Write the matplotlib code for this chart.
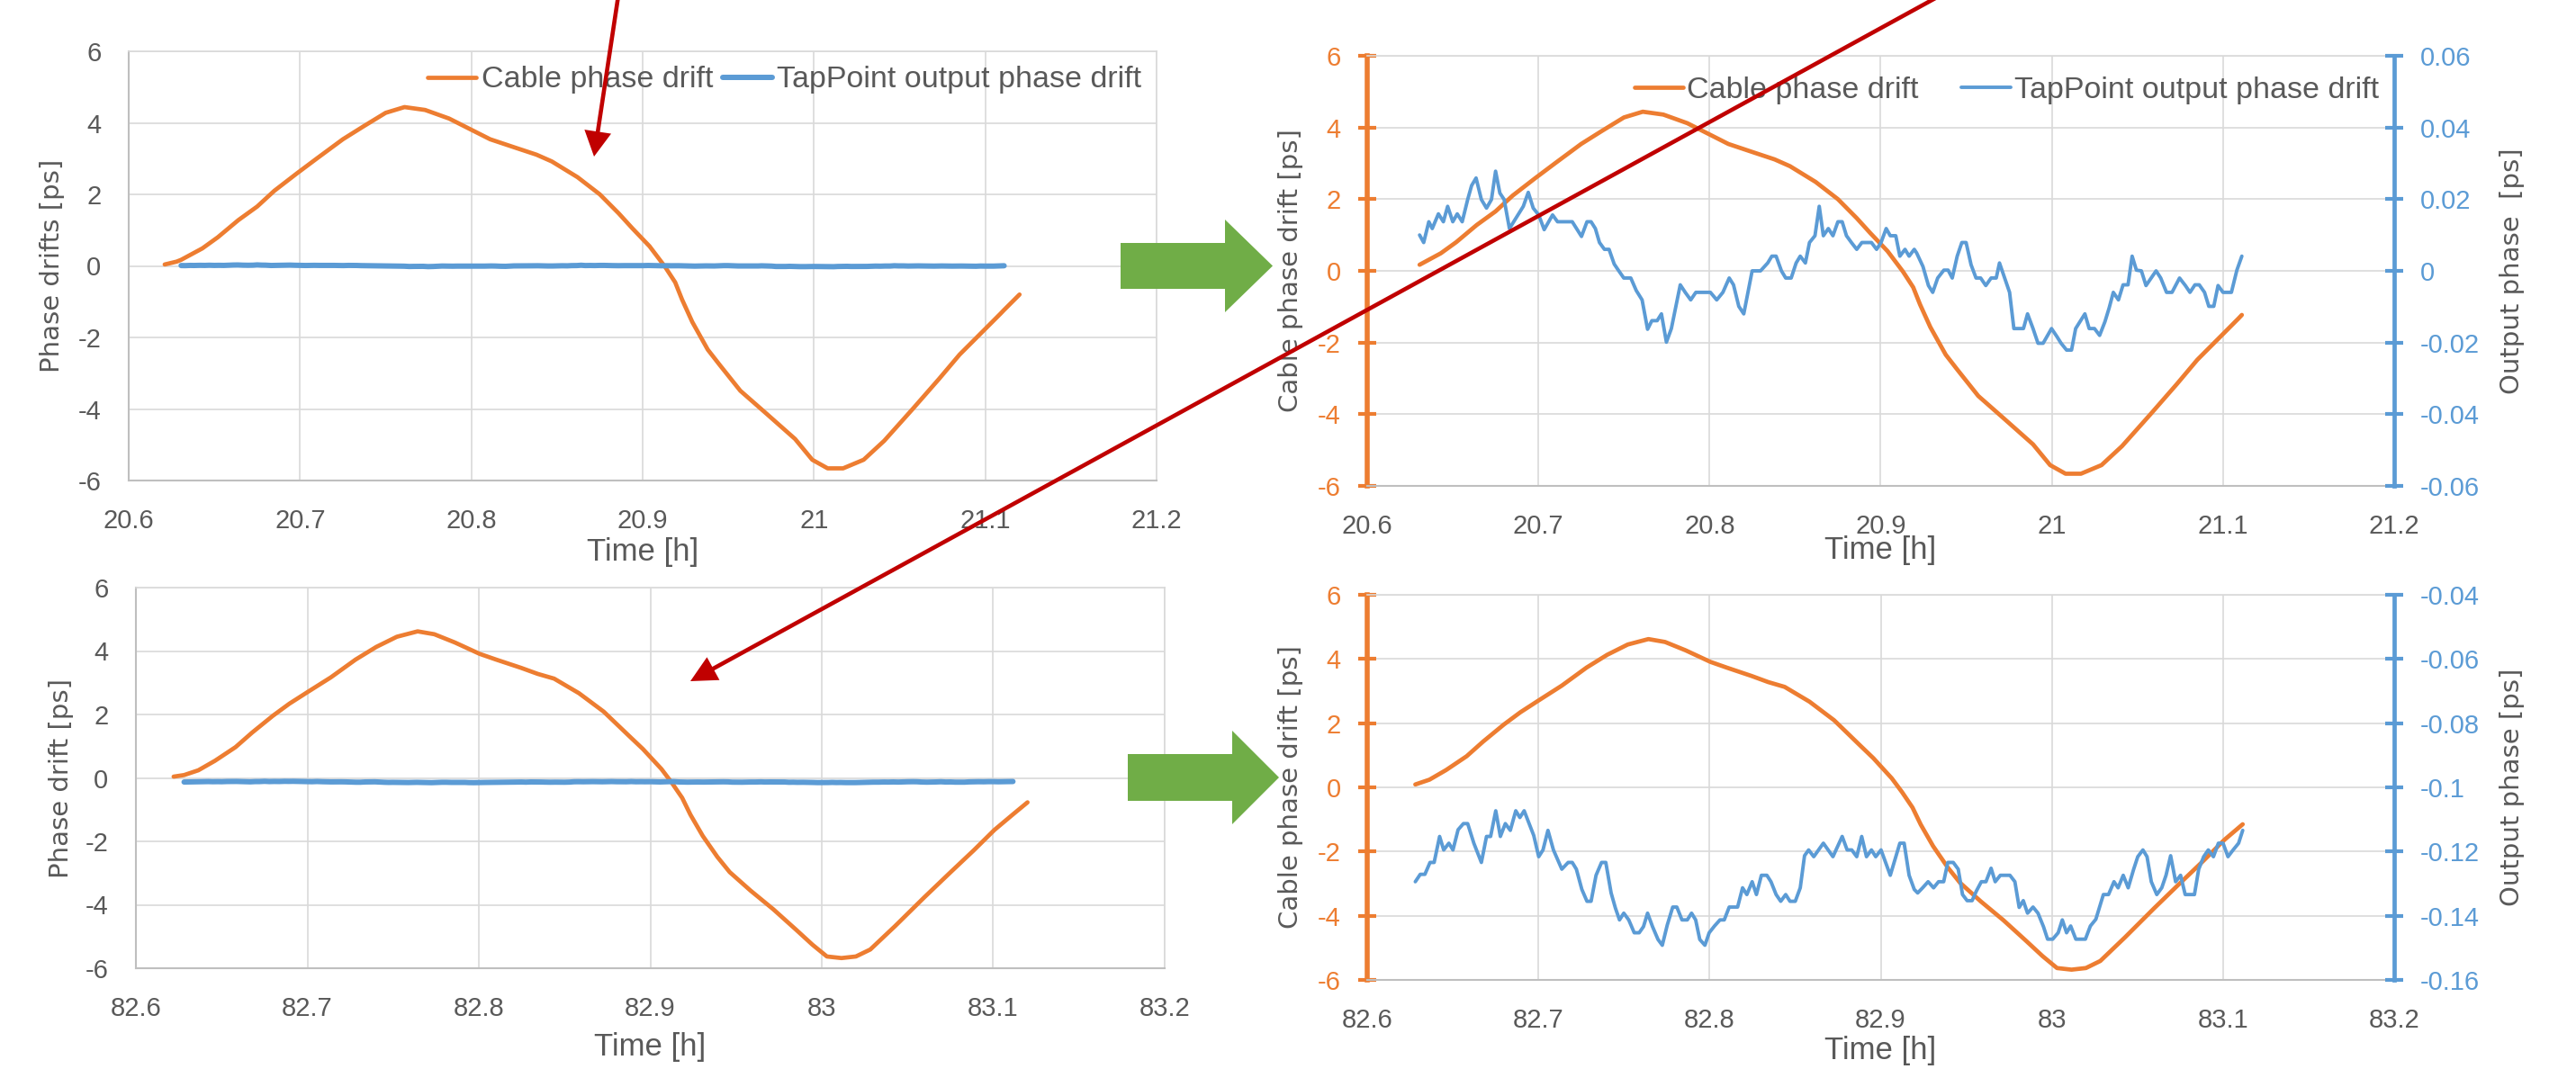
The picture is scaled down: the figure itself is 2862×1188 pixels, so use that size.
import matplotlib
matplotlib.use("Agg")
import matplotlib.pyplot as plt
import numpy as np
from matplotlib.patches import FancyArrow
from matplotlib.ticker import FuncFormatter

# ---- axis ticks ----
x_ticks_top = [20.6, 20.7, 20.8, 20.9, 21.0, 21.1, 21.2]
x_ticks_bot = [82.6, 82.7, 82.8, 82.9, 83.0, 83.1, 83.2]
drift_ticks = [-6, -4, -2, 0, 2, 4, 6]
out_ticks_top = [-0.06, -0.04, -0.02, 0.0, 0.02, 0.04, 0.06]
out_ticks_bot = [-0.16, -0.14, -0.12, -0.10, -0.08, -0.06, -0.04]

# ---- top row: hours 20.6 .. 21.2 ----
top_time = [20.621, 20.628, 20.6306, 20.643, 20.652, 20.664, 20.675, 20.685, 20.698, 20.710,
            20.725, 20.737, 20.750, 20.761, 20.773, 20.787, 20.799, 20.811, 20.826, 20.838,
            20.847, 20.862, 20.875, 20.886, 20.894, 20.904, 20.913, 20.919, 20.923, 20.929,
            20.938, 20.945, 20.957, 20.972, 20.989, 20.999, 21.008, 21.017, 21.029, 21.041,
            21.058, 21.073, 21.085, 21.099, 21.109, 21.111, 21.120]
top_cable = [0.04, 0.12, 0.17, 0.49, 0.80, 1.28, 1.66, 2.10, 2.58, 3.01,
             3.54, 3.90, 4.28, 4.44, 4.36, 4.12, 3.83, 3.54, 3.30, 3.11,
             2.92, 2.48, 2.00, 1.47, 1.05, 0.55, -0.02, -0.46, -0.94, -1.57,
             -2.34, -2.77, -3.49, -4.12, -4.84, -5.42, -5.66, -5.66, -5.42, -4.89,
             -3.98, -3.16, -2.48, -1.81, -1.33, -1.23, -0.80]

top_tap_time = [20.6306, 20.633, 20.636, 20.638, 20.6416, 20.6445, 20.647, 20.650, 20.6526, 20.6555,
                20.6587, 20.661, 20.6636, 20.6667, 20.6697, 20.6726, 20.675, 20.6775, 20.680, 20.6831,
                20.6856, 20.6912, 20.6941, 20.697, 20.7002, 20.7034, 20.7083, 20.7112, 20.7198, 20.7252,
                20.7284, 20.7308, 20.7333, 20.7357, 20.7386, 20.7413, 20.7443, 20.7467, 20.7499, 20.754,
                20.7572, 20.7606, 20.7638, 20.7663, 20.7694, 20.7719, 20.7748, 20.7777, 20.7829, 20.7858,
                20.789, 20.792, 20.8005, 20.8042, 20.8078, 20.8115, 20.814, 20.8171, 20.82, 20.8249,
                20.8298, 20.834, 20.8364, 20.8389, 20.842, 20.8445, 20.8477, 20.8506, 20.853, 20.856,
                20.8584, 20.8616, 20.8641, 20.8665, 20.8694, 20.8721, 20.875, 20.8775, 20.88, 20.8829,
                20.886, 20.889, 20.8946, 20.8976, 20.9002, 20.9032, 20.9056, 20.9088, 20.9112, 20.9142,
                20.9166, 20.9196,
                20.921, 20.9247, 20.9279, 20.9304, 20.9333, 20.9369, 20.9394, 20.9418, 20.9447, 20.9474,
                20.9499, 20.9528, 20.9557, 20.9584, 20.9614, 20.9645, 20.9675, 20.9694, 20.9724, 20.9753,
                20.9778, 20.9834, 20.9858, 20.989, 20.9919, 20.9949, 20.9998, 21.0029, 21.0054, 21.0086,
                21.0115, 21.0139, 21.0164, 21.0193, 21.0218, 21.0249, 21.0279, 21.031, 21.0335, 21.0359,
                21.0389, 21.0416, 21.0445, 21.0469, 21.0494, 21.0523, 21.055, 21.058, 21.0609, 21.0636,
                21.067, 21.0702, 21.0746, 21.078, 21.0807, 21.0836, 21.0861, 21.0892, 21.0917, 21.0946,
                21.0971, 21.1, 21.1049, 21.1081, 21.111]
top_tap = [0.0100, 0.0079, 0.0137, 0.0118, 0.0159, 0.0137, 0.0180, 0.0137, 0.0159, 0.0137,
           0.0199, 0.0238, 0.0259, 0.0199, 0.0175, 0.0199, 0.0278, 0.0217, 0.0199, 0.0118,
           0.0137, 0.0180, 0.0219, 0.0175, 0.0156, 0.0115, 0.0156, 0.0137, 0.0137, 0.0096,
           0.0137, 0.0137, 0.0118, 0.0079, 0.0060, 0.0060, 0.0019, 0.0002, -0.0020, -0.0020,
           -0.0055, -0.0081, -0.0163, -0.0139, -0.0139, -0.0120, -0.0199, -0.0161, -0.0039, -0.0060,
           -0.0081, -0.0060, -0.0060, -0.0081, -0.0060, -0.0020, -0.0039, -0.0099, -0.0120, 0.0000,
           0.0000, 0.0022, 0.0041, 0.0041, 0.0000, -0.0020, -0.0020, 0.0022, 0.0041, 0.0022,
           0.0079, 0.0098, 0.0180, 0.0098, 0.0118, 0.0098, 0.0137, 0.0137, 0.0098, 0.0079,
           0.0060, 0.0079, 0.0079, 0.0060, 0.0079, 0.0118, 0.0098, 0.0098, 0.0041, 0.0060,
           0.0041, 0.0060,
           0.0050, 0.0012, -0.0041, -0.0060, -0.0020, 0.0002, 0.0002, -0.0020, 0.0041, 0.0079,
           0.0079, 0.0017, -0.0020, -0.0020, -0.0041, -0.0020, -0.0020, 0.0022, -0.0020, -0.0060,
           -0.0161, -0.0161, -0.0120, -0.0161, -0.0202, -0.0202, -0.0161, -0.0183, -0.0202, -0.0221,
           -0.0221, -0.0161, -0.0142, -0.0120, -0.0161, -0.0161, -0.0180, -0.0142, -0.0103, -0.0060,
           -0.0081, -0.0039, -0.0039, 0.0041, 0.0002, 0.0000, -0.0041, -0.0020, 0.0000, -0.0020,
           -0.0060, -0.0060, -0.0020, -0.0041, -0.0060, -0.0039, -0.0039, -0.0060, -0.0099, -0.0099,
           -0.0041, -0.0060, -0.0060, 0.0002, 0.0041]

# ---- bottom row: hours 82.6 .. 83.2 ----
bot_time = [82.622, 82.6281, 82.6364, 82.6461, 82.6581, 82.6678, 82.6799, 82.6895, 82.7005, 82.7137,
            82.7281, 82.7402, 82.7522, 82.7643, 82.774, 82.786, 82.8005, 82.8101, 82.8246, 82.8343,
            82.8439, 82.8584, 82.8728, 82.8873, 82.8957, 82.9065, 82.9125, 82.9186, 82.9234, 82.9306,
            82.9391, 82.9463, 82.9584, 82.9717, 82.9849, 82.9946, 83.003, 83.0115, 83.0199, 83.0283,
            83.0428, 83.0597, 83.0742, 83.0887, 83.1007, 83.1115, 83.12]
bot_cable = [0.04, 0.09, 0.24, 0.54, 0.97, 1.43, 1.96, 2.34, 2.72, 3.17,
             3.73, 4.13, 4.45, 4.62, 4.53, 4.27, 3.91, 3.73, 3.47, 3.28,
             3.13, 2.67, 2.09, 1.34, 0.91, 0.28, -0.15, -0.63, -1.16, -1.83,
             -2.49, -2.97, -3.55, -4.14, -4.78, -5.26, -5.63, -5.68, -5.63, -5.41,
             -4.67, -3.77, -3.02, -2.28, -1.64, -1.15, -0.77]

bot_tap_time = [82.6281, 82.631, 82.6337, 82.6367, 82.6391, 82.6423, 82.6447, 82.6477, 82.6501, 82.6531,
                82.6562, 82.6587, 82.6623, 82.6667, 82.6697, 82.6721, 82.6751, 82.6778, 82.6807, 82.6836,
                82.6868, 82.6892, 82.6917, 82.6973, 82.7002, 82.7027, 82.7056, 82.7088, 82.7137, 82.7174,
                82.7198, 82.7222, 82.7254, 82.7284, 82.7308, 82.7337, 82.7369, 82.7394, 82.7425, 82.745,
                82.7474, 82.7499, 82.7528, 82.756, 82.7589, 82.7614, 82.7638, 82.7667, 82.7699, 82.7724,
                82.7753, 82.7785, 82.7809, 82.7839, 82.787, 82.7895, 82.7919, 82.7943, 82.7973, 82.7998,
                82.8029, 82.8061, 82.8086, 82.8115, 82.8164, 82.8193, 82.8218, 82.8249, 82.8274, 82.8303,
                82.8335, 82.8359, 82.8389, 82.8416, 82.8445, 82.847, 82.8501, 82.853, 82.8555, 82.8579,
                82.8609, 82.8665, 82.8721, 82.8775, 82.8804, 82.8831, 82.886, 82.8889, 82.8917, 82.8946,
                82.8971, 82.9002, 82.9056, 82.9112, 82.9137, 82.9166, 82.9196,
                82.9216, 82.9245, 82.9277, 82.9309, 82.9338, 82.9368, 82.9392, 82.9424, 82.9453, 82.9478,
                82.9505, 82.9534, 82.9559, 82.9588, 82.9615, 82.9645, 82.9669, 82.9699, 82.9755, 82.9784,
                82.9809, 82.9833, 82.9858, 82.989, 82.9919, 82.9951, 82.9975, 83.0005, 83.0037, 83.0061,
                83.0086, 83.011, 83.014, 83.0196, 83.0225, 83.0257, 83.0301, 83.0331, 83.0363, 83.0387,
                83.0417, 83.0446, 83.0478, 83.0502, 83.0532, 83.0556, 83.0581, 83.0613, 83.0642, 83.0667,
                83.0694, 83.0723, 83.0752, 83.0779, 83.0833, 83.0858, 83.0887, 83.0914, 83.0944, 83.0973,
                83.1, 83.1029, 83.1059, 83.1091, 83.1115]
bot_tap = [-0.1294, -0.1271, -0.1271, -0.1234, -0.1234, -0.1153, -0.1195, -0.1174, -0.1195, -0.1132,
           -0.1113, -0.1113, -0.1174, -0.1234, -0.1153, -0.1153, -0.1073, -0.1153, -0.1113, -0.1134,
           -0.1073, -0.1094, -0.1073, -0.1150, -0.1216, -0.1195, -0.1134, -0.1195, -0.1255, -0.1234,
           -0.1234, -0.1255, -0.1318, -0.1355, -0.1355, -0.1274, -0.1234, -0.1234, -0.1329, -0.1376,
           -0.1413, -0.1392, -0.1413, -0.1453, -0.1453, -0.1434, -0.1392, -0.1434, -0.1474, -0.1492,
           -0.1429, -0.1373, -0.1373, -0.1413, -0.1413, -0.1392, -0.1413, -0.1474, -0.1492, -0.1453,
           -0.1432, -0.1413, -0.1413, -0.1373, -0.1373, -0.1313, -0.1334, -0.1294, -0.1334, -0.1274,
           -0.1274, -0.1294, -0.1334, -0.1355, -0.1334, -0.1355, -0.1355, -0.1313, -0.1213, -0.1195,
           -0.1216, -0.1174, -0.1216, -0.1153, -0.1195, -0.1195, -0.1216, -0.1153, -0.1216, -0.1195,
           -0.1216, -0.1195, -0.1274, -0.1174, -0.1174, -0.1274, -0.1318,
           -0.1329, -0.1313, -0.1294, -0.1313, -0.1294, -0.1294, -0.1234, -0.1234, -0.1255, -0.1334,
           -0.1353, -0.1353, -0.1323, -0.1294, -0.1294, -0.1252, -0.1294, -0.1274, -0.1274, -0.1294,
           -0.1374, -0.1353, -0.1392, -0.1373, -0.1392, -0.1434, -0.1473, -0.1473, -0.1453, -0.1413,
           -0.1453, -0.1432, -0.1473, -0.1473, -0.1432, -0.1411, -0.1334, -0.1334, -0.1294, -0.1313,
           -0.1274, -0.1313, -0.1255, -0.1216, -0.1195, -0.1216, -0.1294, -0.1334, -0.1313, -0.1274,
           -0.1213, -0.1294, -0.1274, -0.1334, -0.1334, -0.1255, -0.1216, -0.1195, -0.1216, -0.1174,
           -0.1174, -0.1216, -0.1195, -0.1174, -0.1134]

ORANGE = '#ED7D31'
BLUE = '#5B9BD5'
TXT = '#595959'
GRID = '#D9D9D9'
AXLINE = '#BFBFBF'
RED = '#C00000'
GREEN = '#70AD47'

plt.rcParams['font.family'] = ['Liberation Sans', 'DejaVu Sans']

W, H = 2862, 1188
fig = plt.figure(figsize=(W / 100, H / 100), dpi=100)


def px_axes(l, t, r, b):
    return fig.add_axes([l / W, 1 - b / H, (r - l) / W, (b - t) / H])


fmt = FuncFormatter(lambda v, p: f"{round(v, 6) + 0:g}")


def style_base(ax, xticks, xlab_y):
    ax.set_xlim(xticks[0], xticks[-1])
    ax.set_ylim(drift_ticks[0], drift_ticks[-1])
    ax.set_xticks(xticks)
    ax.set_yticks(drift_ticks)
    ax.xaxis.set_major_formatter(fmt)
    ax.yaxis.set_major_formatter(fmt)
    ax.grid(True, color=GRID, lw=1.2)
    ax.set_axisbelow(True)
    for s in ['top', 'right']:
        ax.spines[s].set_color(GRID)
        ax.spines[s].set_linewidth(1.2)
    for s in ['left', 'bottom']:
        ax.spines[s].set_color(AXLINE)
        ax.spines[s].set_linewidth(1.5)
    ax.tick_params(axis='x', length=0, pad=22, labelsize=21, labelcolor=TXT)
    ax.tick_params(axis='y', length=0, pad=22, labelsize=21, labelcolor=TXT)
    ax.set_xlabel('Time [h]', fontsize=25, color=TXT)
    ax.xaxis.set_label_coords(0.5, xlab_y)
    ax.xaxis.label.set_va('center')


def left_panel(rect, t, cable, tap_t, tap, xticks, ylabel, xlab_y, ylab_x):
    ax = px_axes(*rect)
    style_base(ax, xticks, xlab_y)
    l1, = ax.plot(t, cable, color=ORANGE, lw=3.4, solid_joinstyle='round',
                  solid_capstyle='round', label='Cable phase drift')
    l2, = ax.plot(tap_t, tap, color=BLUE, lw=4.3, solid_joinstyle='round',
                  solid_capstyle='round', label='TapPoint output phase drift')
    ax.set_ylabel(ylabel, family='DejaVu Sans', fontsize=21, color=TXT)
    ax.yaxis.set_label_coords(ylab_x, 0.5)
    ax.yaxis.label.set_va('center')
    return ax, l1, l2


def right_panel(rect, t, cable, tap_t, tap, xticks, out_ticks, rlabel, xlab_y):
    ax = px_axes(*rect)
    style_base(ax, xticks, xlab_y)
    ax.spines['right'].set_visible(False)
    ax.spines['left'].set_color(ORANGE)
    ax.spines['left'].set_linewidth(4)
    ax.tick_params(axis='y', direction='inout', length=14, width=3, color=ORANGE,
                   labelcolor=ORANGE, pad=14)
    t = np.asarray(t)
    keep = (t >= tap_t[0] - 1e-9) & (t <= tap_t[-1] + 1e-9)
    l1, = ax.plot(t[keep], np.asarray(cable)[keep], color=ORANGE, lw=3.4,
                  solid_joinstyle='round', solid_capstyle='round', label='Cable phase drift')
    ax.set_ylabel('Cable phase drift [ps]', family='DejaVu Sans', fontsize=21, color=TXT)
    ax.yaxis.set_label_coords((1434 - rect[0]) / (rect[2] - rect[0]), 0.5)
    ax.yaxis.label.set_va('center')

    ax2 = ax.twinx()
    ax2.set_ylim(out_ticks[0], out_ticks[-1])
    ax2.set_yticks(out_ticks)
    ax2.yaxis.set_major_formatter(fmt)
    for s in ['top', 'left', 'bottom']:
        ax2.spines[s].set_visible(False)
    ax2.spines['right'].set_color(BLUE)
    ax2.spines['right'].set_linewidth(3.4)
    ax2.tick_params(axis='y', direction='inout', length=14, width=3, color=BLUE,
                    labelcolor=BLUE, pad=14, labelsize=21)
    l2, = ax2.plot(tap_t, tap, color=BLUE, lw=2.8, solid_joinstyle='round',
                   solid_capstyle='round', label='TapPoint output phase drift')
    ax2.set_ylabel(rlabel, family='DejaVu Sans', fontsize=21, color=TXT, rotation=90)
    ax2.yaxis.set_label_coords((2791 - rect[0]) / (rect[2] - rect[0]), 0.5)
    ax2.yaxis.label.set_va('center')
    return ax, ax2, l1, l2


# top-left
tl = (143, 57, 1285, 534)
ax_tl, a1, a2 = left_panel(tl, top_time, top_cable, top_tap_time, top_tap, x_ticks_top,
                           'Phase drifts [ps]', (534 - 613) / (534 - 57), (58 - 143) / (1285 - 143))
ax_tl.legend(handles=[a1, a2], loc='center right', bbox_to_anchor=(1268 / W, 1 - 89 / H),
             bbox_transform=fig.transFigure, ncol=2, frameon=False, fontsize=24.5,
             labelcolor=TXT, handlelength=1.6, handletextpad=0.15, columnspacing=0.33,
             borderpad=0, borderaxespad=0)

# bottom-left
bl = (151, 653, 1294, 1076)
left_panel(bl, bot_time, bot_cable, bot_tap_time, bot_tap, x_ticks_bot,
           'Phase drift [ps]', (1076 - 1164) / (1076 - 653), (68 - 151) / (1294 - 151))

# top-right
tr = (1519, 62, 2660, 540)
ax_tr, ax_tr2, b1, b2 = right_panel(tr, top_time, top_cable, top_tap_time, top_tap,
                                    x_ticks_top, out_ticks_top, 'Output phase  [ps]',
                                    (540 - 612) / (540 - 62))
ax_tr2.legend(handles=[b1, b2], loc='center right', bbox_to_anchor=(2643 / W, 1 - 100 / H),
              bbox_transform=fig.transFigure, ncol=2, frameon=False, fontsize=24.5,
              labelcolor=TXT, handlelength=1.6, handletextpad=0.12, columnspacing=1.4,
              borderpad=0, borderaxespad=0)

# bottom-right
br = (1519, 661, 2660, 1089)
right_panel(br, bot_time, bot_cable, bot_tap_time, bot_tap, x_ticks_bot, out_ticks_bot,
            'Output phase [ps]', (1089 - 1167) / (1089 - 661))

# overlay with the annotation arrows (pixel coordinates)
ov = fig.add_axes([0, 0, 1, 1])
ov.set_xlim(0, W)
ov.set_ylim(H, 0)
ov.axis('off')
ov.set_zorder(10)
ov.patch.set_alpha(0)

ov.add_patch(FancyArrow(1245, 295.5, 1414 - 1245, 0, width=51, head_width=103,
                        head_length=53, length_includes_head=True, color=GREEN, lw=0))
ov.add_patch(FancyArrow(1253, 864, 1421 - 1253, 0, width=52, head_width=104,
                        head_length=52, length_includes_head=True, color=GREEN, lw=0))
ov.add_patch(FancyArrow(687, -5, 660 - 687, 174 + 5, width=4.6, head_width=30,
                        head_length=28, length_includes_head=True, color=RED, lw=0))
ov.add_patch(FancyArrow(2152, -3, 767 - 2152, 757 + 3, width=4.6, head_width=29,
                        head_length=29, length_includes_head=True, color=RED, lw=0))

fig.savefig('out.png', dpi=100)
